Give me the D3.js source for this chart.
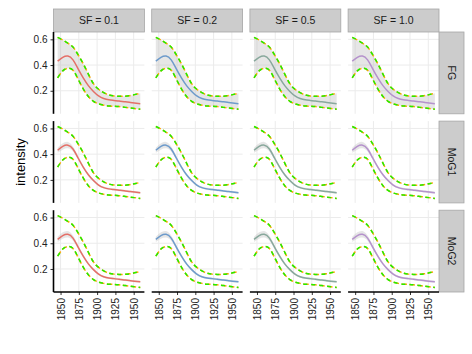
<!DOCTYPE html>
<html>
<head>
<meta charset="utf-8">
<script src="https://cdn.jsdelivr.net/npm/d3@7"></script>
<style>
  body { margin: 0; background: #fff; }
  text { font-family: "Liberation Sans", Arial, sans-serif; }
</style>
</head>
<body>
<script>
// facet labels
var sfLevels = ["SF = 0.1", "SF = 0.2", "SF = 0.5", "SF = 1.0"];
var methods = ["FG", "MoG1", "MoG2"];
var lineColors = ["#e46f68", "#6e9bcb", "#88a89c", "#b592cc"];

// years of the estimated curve
var years = [1846, 1853, 1860, 1867, 1874, 1881, 1888, 1895, 1902, 1909, 1916, 1923, 1930, 1937, 1944, 1951, 1959];
// posterior mean intensity
var meanVals = [0.43, 0.46, 0.47, 0.44, 0.37, 0.30, 0.24, 0.195, 0.16, 0.14, 0.13, 0.125, 0.12, 0.115, 0.11, 0.105, 0.10];
// upper / lower dashed bounds
var upperVals = [0.615, 0.595, 0.57, 0.54, 0.48, 0.41, 0.33, 0.255, 0.212, 0.185, 0.168, 0.16, 0.158, 0.158, 0.162, 0.17, 0.18];
var lowerVals = [0.30, 0.355, 0.375, 0.36, 0.29, 0.215, 0.155, 0.118, 0.098, 0.088, 0.082, 0.08, 0.077, 0.072, 0.067, 0.062, 0.056];
// half width of the narrow band for the MoG rows
var mogBand = [0.02, 0.025, 0.025, 0.02, 0.015, 0.012, 0.01, 0.009, 0.008, 0.008, 0.008, 0.008, 0.008, 0.008, 0.008, 0.008, 0.008];

var xTicks = [1850, 1875, 1900, 1925, 1950];
var yTicks = [0.2, 0.4, 0.6];

var width = 472, height = 354;
var marginLeft = 53.5, marginTop = 32, pw = 90.9, ph = 81.8, gap = 7.3;
var stripH = 23, stripW = 25;

var svg = d3.select("body").append("svg")
    .attr("width", width)
    .attr("height", height);

var x = d3.scaleLinear().domain([1840.35, 1964.65]).range([0, pw]);
var y = d3.scaleLinear().domain([0.021, 0.657]).range([ph, 0]);

var pts = years.map(function(yr, i){
    return {yr: yr, m: meanVals[i], u: upperVals[i], l: lowerVals[i], b: mogBand[i]};
});

var curve = d3.curveNatural;
var line = function(key){
    return d3.line().curve(curve).x(function(d){ return x(d.yr); }).y(function(d){ return y(d[key]); });
};

methods.forEach(function(method, r){
    sfLevels.forEach(function(sf, c){
        var g = svg.append("g")
            .attr("transform", "translate(" + (marginLeft + c * (pw + gap)) + "," + (marginTop + r * (ph + gap)) + ")");

        g.append("rect").attr("width", pw).attr("height", ph).attr("fill", "#fff");

        //grid lines
        g.selectAll(".gx").data(xTicks).enter().append("line")
            .attr("x1", function(d){ return x(d); }).attr("x2", function(d){ return x(d); })
            .attr("y1", 0).attr("y2", ph)
            .attr("stroke", "#ebebeb").attr("stroke-width", 1);
        g.selectAll(".gy").data(yTicks).enter().append("line")
            .attr("x1", 0).attr("x2", pw)
            .attr("y1", function(d){ return y(d); }).attr("y2", function(d){ return y(d); })
            .attr("stroke", "#ebebeb").attr("stroke-width", 1);

        //ribbon
        var area = d3.area().curve(curve).x(function(d){ return x(d.yr); });
        if (method == "FG"){
            area.y0(function(d){ return y(d.l); }).y1(function(d){ return y(d.u); });
        } else {
            area.y0(function(d){ return y(d.m - d.b); }).y1(function(d){ return y(d.m + d.b); });
        }
        g.append("path").datum(pts).attr("d", area)
            .attr("fill", "#bdbdbd").attr("fill-opacity", 0.38);

        //mean line
        g.append("path").datum(pts).attr("d", line("m"))
            .attr("fill", "none").attr("stroke", lineColors[c]).attr("stroke-width", 1.5);

        //dashed bounds: orange dashes peeking out behind green ones
        ["u", "l"].forEach(function(k){
            g.append("path").datum(pts).attr("d", line(k))
                .attr("fill", "none").attr("stroke", "#ffa500").attr("stroke-width", 1.5)
                .attr("stroke-dasharray", "5.5,2.5");
            g.append("path").datum(pts).attr("d", line(k))
                .attr("fill", "none").attr("stroke", "#22ee00").attr("stroke-width", 1.5)
                .attr("stroke-dasharray", "4,4");
        });

        //top strips
        if (r == 0){
            g.append("rect").attr("x", 0).attr("y", -stripH).attr("width", pw).attr("height", stripH)
                .attr("fill", "#cccccc").attr("stroke", "#a6a6a6").attr("stroke-width", 0.8);
            g.append("text").attr("x", pw / 2).attr("y", -stripH / 2).attr("dy", "0.35em")
                .attr("text-anchor", "middle").attr("font-size", 10.5).attr("fill", "#1a1a1a")
                .text(sf);
        }
        //right strips
        if (c == sfLevels.length - 1){
            g.append("rect").attr("x", pw).attr("y", 0).attr("width", stripW).attr("height", ph)
                .attr("fill", "#cccccc").attr("stroke", "#a6a6a6").attr("stroke-width", 0.8);
            g.append("text")
                .attr("transform", "translate(" + (pw + stripW / 2) + "," + (ph / 2) + ") rotate(90)")
                .attr("dy", "0.35em").attr("text-anchor", "middle").attr("font-size", 10.5).attr("fill", "#1a1a1a")
                .text(method);
        }
        //left axis
        if (c == 0){
            var ya = g.append("g").call(d3.axisLeft(y).tickValues(yTicks).tickSize(3).tickPadding(3).tickFormat(d3.format(".1f")));
            ya.select(".domain").remove();
            ya.selectAll("line").attr("stroke", "#333");
            ya.selectAll("text").attr("font-size", 10).attr("fill", "#222").style("font-family", "Liberation Sans, Arial, sans-serif");
            g.append("line").attr("x1", 0).attr("x2", 0).attr("y1", 0).attr("y2", ph)
                .attr("stroke", "#000").attr("stroke-width", 1.6);
        }
        //bottom axis
        if (r == methods.length - 1){
            var xa = g.append("g").attr("transform", "translate(0," + ph + ")")
                .call(d3.axisBottom(x).tickValues(xTicks).tickSize(3).tickFormat(d3.format("d")));
            xa.select(".domain").remove();
            xa.selectAll("line").attr("stroke", "#333");
            xa.selectAll("text")
                .attr("font-size", 10).attr("fill", "#222").style("font-family", "Liberation Sans, Arial, sans-serif")
                .attr("transform", "rotate(-90)")
                .attr("text-anchor", "end")
                .attr("x", -6).attr("y", 0).attr("dy", "0.35em");
            g.append("line").attr("x1", 0).attr("x2", pw).attr("y1", ph).attr("y2", ph)
                .attr("stroke", "#000").attr("stroke-width", 1.6);
        }
    });
});

//y axis title
svg.append("text")
    .attr("transform", "translate(20," + (marginTop + (3 * ph + 2 * gap) / 2) + ") rotate(-90)")
    .attr("text-anchor", "middle").attr("dy", "0.35em")
    .attr("font-size", 13).attr("fill", "#000")
    .text("intensity");
</script>
</body>
</html>
